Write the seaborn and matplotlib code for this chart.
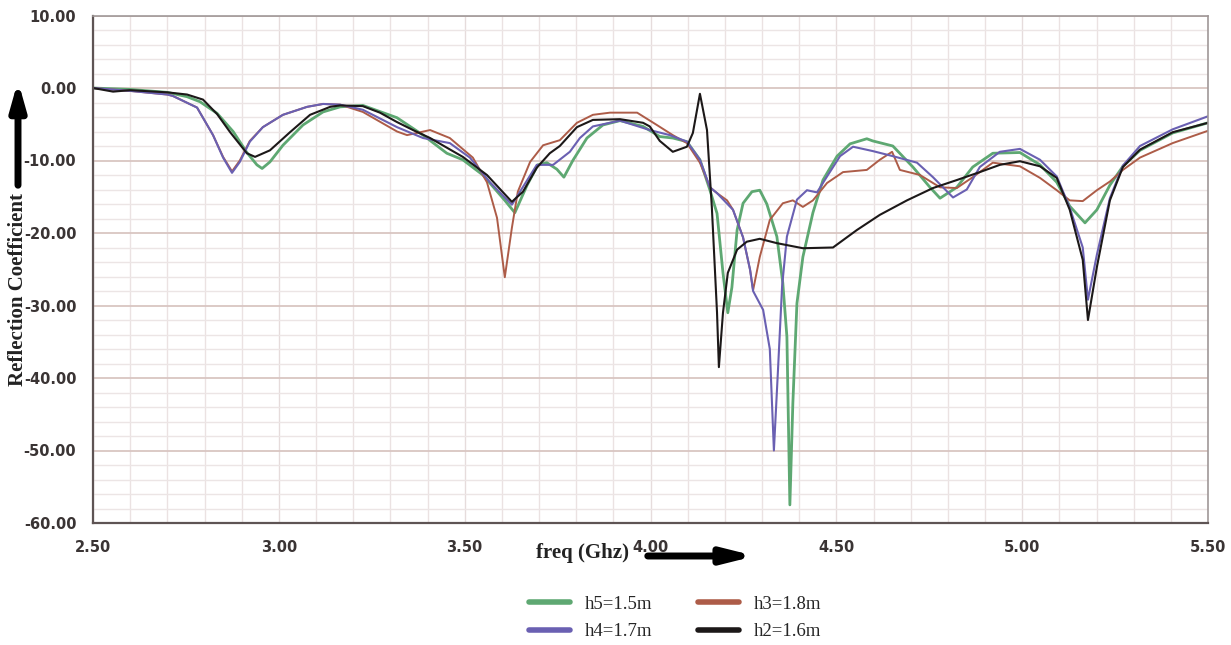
import matplotlib
matplotlib.use("Agg")
import matplotlib.pyplot as plt
from matplotlib.ticker import MultipleLocator, FormatStrFormatter
from matplotlib.lines import Line2D
import seaborn as sns
import pandas as pd

# ---- data ----
f_h2 = [2.50, 2.554, 2.60, 2.70, 2.753, 2.796, 2.834, 2.869, 2.914, 2.936, 2.976, 3.030, 3.084, 3.138,
        3.165, 3.226, 3.272, 3.318, 3.361, 3.407, 3.495, 3.560, 3.627, 3.657, 3.694, 3.729, 3.756, 3.802,
        3.845, 3.918, 3.980, 3.998, 4.025, 4.060, 4.098, 4.114, 4.133, 4.152, 4.165, 4.179, 4.184, 4.195,
        4.208, 4.233, 4.259, 4.294, 4.340, 4.410, 4.491, 4.555, 4.617, 4.690, 4.760, 4.824, 4.886, 4.940,
        4.994, 5.048, 5.093, 5.128, 5.163, 5.177, 5.201, 5.236, 5.271, 5.317, 5.405, 5.500]
s_h2 = [0.0, -0.5, -0.3, -0.6, -0.9, -1.6, -3.6, -6.1, -9.0, -9.5, -8.6, -6.1, -3.7, -2.6,
        -2.4, -2.5, -3.4, -4.7, -5.8, -6.9, -9.5, -12.0, -15.7, -14.3, -11.0, -9.0, -8.0, -5.4,
        -4.4, -4.3, -4.8, -5.3, -7.3, -8.8, -8.1, -6.2, -0.8, -5.8, -16.4, -31.0, -38.5, -31.0,
        -25.5, -22.3, -21.2, -20.8, -21.4, -22.1, -22.0, -19.6, -17.5, -15.5, -13.8, -12.7, -11.6, -10.6,
        -10.1, -10.8, -12.4, -16.8, -23.7, -32.0, -24.7, -15.5, -10.9, -8.5, -6.1, -4.8]

f_h5 = [2.50, 2.60, 2.70, 2.753, 2.788, 2.834, 2.877, 2.914, 2.941, 2.955, 2.976, 3.011, 3.065, 3.119,
        3.165, 3.226, 3.318, 3.388, 3.452, 3.495, 3.549, 3.608, 3.635, 3.668, 3.697, 3.721, 3.748, 3.767,
        3.791, 3.829, 3.872, 3.918, 3.980, 4.025, 4.060, 4.098, 4.133, 4.160, 4.179, 4.195, 4.208, 4.219,
        4.233, 4.249, 4.273, 4.294, 4.313, 4.340, 4.356, 4.367, 4.375, 4.383, 4.394, 4.410, 4.437, 4.464,
        4.502, 4.537, 4.582, 4.598, 4.652, 4.706, 4.752, 4.779, 4.824, 4.867, 4.921, 4.994, 5.048, 5.093,
        5.128, 5.169, 5.201, 5.236, 5.271, 5.317, 5.405, 5.500]
s_h5 = [0.0, -0.2, -0.6, -1.2, -1.9, -3.5, -6.0, -8.9, -10.6, -11.1, -10.2, -7.9, -5.1, -3.3,
        -2.6, -2.4, -4.1, -6.5, -9.0, -9.9, -12.0, -15.5, -17.2, -13.4, -10.6, -10.3, -11.2, -12.3,
        -10.0, -6.9, -5.1, -4.5, -5.3, -6.7, -6.9, -7.4, -9.9, -14.1, -17.3, -25.5, -31.0, -27.5,
        -19.6, -15.9, -14.3, -14.1, -16.0, -20.5, -26.9, -34.3, -57.5, -43.5, -29.7, -23.3, -17.2, -12.7,
        -9.4, -7.7, -7.0, -7.3, -8.0, -10.9, -13.7, -15.2, -13.7, -10.9, -9.0, -8.9, -10.6, -13.0,
        -16.3, -18.6, -16.8, -13.4, -10.8, -8.6, -6.2, -4.8]

f_h4 = [2.50, 2.60, 2.70, 2.715, 2.780, 2.823, 2.850, 2.874, 2.895, 2.922, 2.957, 3.011, 3.076, 3.119,
        3.165, 3.226, 3.318, 3.388, 3.460, 3.514, 3.568, 3.627, 3.694, 3.738, 3.783, 3.810, 3.845, 3.918,
        3.998, 4.052, 4.098, 4.133, 4.160, 4.179, 4.222, 4.249, 4.268, 4.276, 4.303, 4.321, 4.332, 4.343,
        4.354, 4.367, 4.394, 4.421, 4.448, 4.475, 4.510, 4.545, 4.598, 4.652, 4.717, 4.760, 4.814, 4.851,
        4.886, 4.940, 4.994, 5.048, 5.093, 5.128, 5.163, 5.177, 5.201, 5.236, 5.271, 5.317, 5.405, 5.500]
s_h4 = [0.0, -0.4, -0.9, -1.1, -2.7, -6.5, -9.6, -11.7, -10.2, -7.4, -5.4, -3.7, -2.6, -2.2,
        -2.3, -3.0, -5.4, -6.9, -7.6, -9.6, -13.0, -16.1, -10.6, -10.6, -8.8, -6.9, -5.3, -4.5,
        -5.8, -6.5, -7.4, -9.9, -13.7, -14.5, -16.8, -20.6, -25.1, -28.0, -30.6, -36.0, -50.0, -38.9,
        -27.4, -20.5, -15.4, -14.1, -14.4, -12.2, -9.4, -8.1, -8.7, -9.4, -10.3, -12.3, -15.1, -14.0,
        -10.9, -8.8, -8.4, -9.9, -12.2, -16.5, -22.0, -29.2, -23.0, -15.2, -10.7, -8.0, -5.7, -3.9]

f_h3 = [2.50, 2.60, 2.70, 2.715, 2.780, 2.823, 2.850, 2.874, 2.895, 2.922, 2.957, 3.011, 3.076, 3.119,
        3.165, 3.226, 3.318, 3.345, 3.407, 3.460, 3.522, 3.560, 3.587, 3.608, 3.627, 3.643, 3.676, 3.711,
        3.756, 3.802, 3.845, 3.891, 3.964, 4.017, 4.060, 4.098, 4.133, 4.160, 4.179, 4.206, 4.222, 4.249,
        4.268, 4.276, 4.294, 4.321, 4.356, 4.383, 4.410, 4.437, 4.475, 4.518, 4.582, 4.617, 4.650, 4.671,
        4.725, 4.779, 4.824, 4.867, 4.921, 4.994, 5.048, 5.093, 5.128, 5.163, 5.201, 5.236, 5.271, 5.317,
        5.405, 5.500]
s_h3 = [0.0, -0.4, -0.9, -1.1, -2.7, -6.5, -9.5, -11.5, -10.0, -7.3, -5.4, -3.7, -2.6, -2.2,
        -2.3, -3.3, -6.0, -6.5, -5.8, -6.9, -9.6, -13.0, -17.9, -26.1, -19.3, -14.3, -10.2, -7.9,
        -7.2, -4.8, -3.7, -3.4, -3.4, -5.1, -6.5, -7.6, -10.3, -13.7, -14.5, -15.5, -16.8, -20.6,
        -25.1, -27.9, -23.3, -18.2, -15.9, -15.5, -16.4, -15.5, -13.1, -11.6, -11.3, -9.9, -8.8, -11.3,
        -12.0, -13.7, -13.8, -12.3, -10.3, -10.8, -12.4, -14.1, -15.5, -15.6, -14.1, -12.9, -11.3, -9.6,
        -7.6, -5.9]

labels = ["h5=1.5m", "h4=1.7m", "h3=1.8m", "h2=1.6m"]
x_ticklabels = ["2.50", "3.00", "3.50", "4.00", "4.50", "5.00", "5.50"]

# ---- styling ----
sns.set_style("white")
plt.rcParams["font.family"] = ["DejaVu Sans"]

colors = {"h5=1.5m": "#5ea872", "h4=1.7m": "#6a60b2", "h3=1.8m": "#ad5c48", "h2=1.6m": "#1c1818"}
widths = {"h5=1.5m": 2.0, "h4=1.7m": 1.5, "h3=1.8m": 1.4, "h2=1.6m": 1.5}

fig = plt.figure(figsize=(12.31, 6.45), dpi=100)
ax = fig.add_axes([93 / 1231, 1 - 523 / 645, (1208 - 93) / 1231, (523 - 15.5) / 645])

series = {"h5=1.5m": (f_h5, s_h5), "h4=1.7m": (f_h4, s_h4),
          "h3=1.8m": (f_h3, s_h3), "h2=1.6m": (f_h2, s_h2)}
for name in ["h5=1.5m", "h3=1.8m", "h4=1.7m", "h2=1.6m"]:
    fx, sy = series[name]
    df = pd.DataFrame({"freq": fx, "s11": sy})
    sns.lineplot(data=df, x="freq", y="s11", ax=ax, color=colors[name], lw=widths[name],
                 sort=False, estimator=None, legend=False)

ax.set_xlim(2.5, 5.5)
ax.set_ylim(-60, 10)
ax.xaxis.set_major_locator(MultipleLocator(0.5))
ax.xaxis.set_minor_locator(MultipleLocator(0.1))
ax.yaxis.set_major_locator(MultipleLocator(10))
ax.yaxis.set_minor_locator(MultipleLocator(2))
ax.set_xticks([2.5, 3.0, 3.5, 4.0, 4.5, 5.0, 5.5])
ax.set_xticklabels(x_ticklabels)
ax.yaxis.set_major_formatter(FormatStrFormatter("%.2f"))

ax.grid(which="minor", axis="x", color="#ebe2e2", lw=1.0)
ax.grid(which="major", axis="x", color="#e6dcdc", lw=1.0)
ax.grid(which="minor", axis="y", color="#ece5e5", lw=1.0)
ax.grid(which="major", axis="y", color="#d9c6c2", lw=1.3)
ax.set_axisbelow(True)

for side in ["left", "bottom"]:
    ax.spines[side].set_color("#5e5454")
    ax.spines[side].set_linewidth(1.6)
for side in ["top", "right"]:
    ax.spines[side].set_color("#a09898")
    ax.spines[side].set_linewidth(1.2)

ax.tick_params(which="both", direction="out", color="#5e5454", width=1.2)
ax.tick_params(which="major", length=7, labelsize=10.5, labelcolor="#3a3434", pad=5)
ax.tick_params(which="minor", length=5)
for lab in ax.get_xticklabels() + ax.get_yticklabels():
    lab.set_fontweight("bold")
ax.set_xlabel("")
ax.set_ylabel("")

# axis titles with arrows
fig.text(18 / 1231, 1 - 290 / 645, "Reflection Coefficient", rotation=90, ha="center", va="center",
         fontsize=15, fontweight="bold", family=["Liberation Serif"], color="#222222")
ax.annotate("", xy=(18, 645 - 78), xytext=(18, 645 - 188), xycoords="figure pixels",
            arrowprops=dict(arrowstyle="-|>,head_width=0.45,head_length=1.6", lw=5, color="black"),
            annotation_clip=False)
fig.text(583 / 1231, 1 - 553 / 645, "freq (Ghz)", ha="center", va="center",
         fontsize=15, fontweight="bold", family=["Liberation Serif"], color="#222222")
ax.annotate("", xy=(758, 645 - 556), xytext=(645, 645 - 556), xycoords="figure pixels",
            arrowprops=dict(arrowstyle="-|>,head_width=0.45,head_length=1.8", lw=5, color="black"),
            annotation_clip=False)

# legend
handles = [Line2D([0], [0], color=colors[n], lw=4) for n in labels]
fig.legend(handles, labels, ncol=2, loc="center", bbox_to_anchor=(675 / 1231, 1 - 618 / 645),
           frameon=False, prop={"family": "Liberation Serif", "size": 13.5},
           handlelength=2.2, handletextpad=0.8, columnspacing=2.4, labelspacing=0.55)

fig.savefig("out.png", dpi=100)
